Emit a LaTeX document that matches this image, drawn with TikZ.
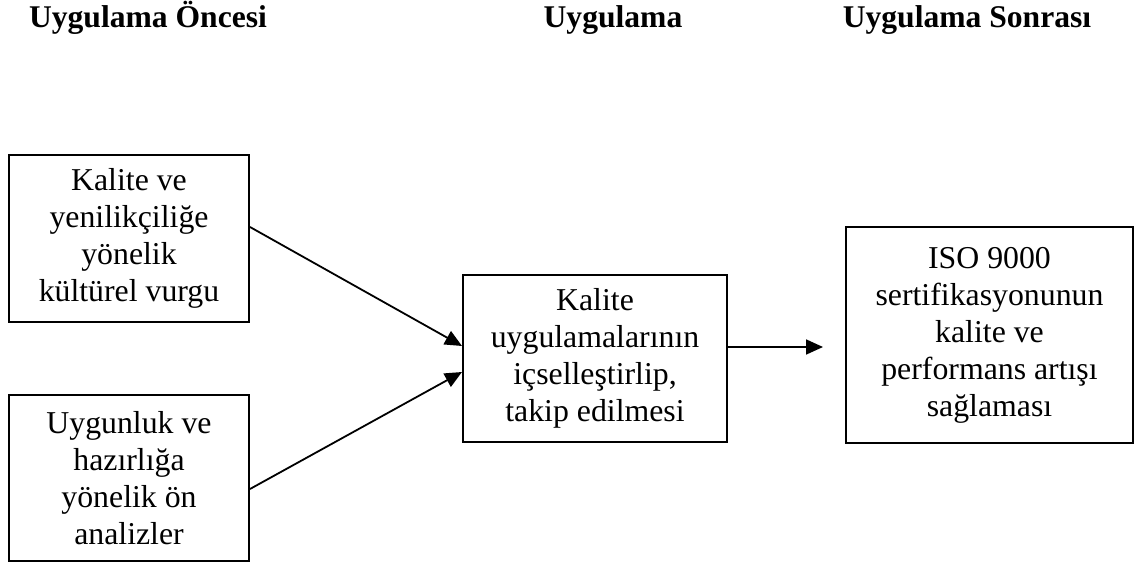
\documentclass[tikz,border=0pt]{standalone}
\usepackage{fontspec}
\setmainfont{Liberation Serif}
\usetikzlibrary{arrows.meta}
\begin{document}
\begin{tikzpicture}[x=1pt,y=-1pt,
  stagebox/.style={draw=black, line width=2pt, rectangle, align=center, inner sep=0pt,
    font=\fontsize{31.8}{37}\selectfont},
  heading/.style={anchor=base, font=\fontsize{31.6}{36}\selectfont\bfseries},
  flow/.style={line width=1.8pt, -{Triangle[length=17pt,width=15pt]}}]
  \useasboundingbox (0,0) rectangle (1138,564);

  % column titles
  \node[heading] (h1) at (148,28) {Uygulama Öncesi};
  \node[heading] (h2) at (613,28) {Uygulama};
  \node[heading] (h3) at (967,28) {Uygulama Sonrası};

  % stage boxes
  \node[stagebox, minimum width=240pt, minimum height=167pt] (pre1) at (129,238.5)
    {Kalite ve\\yenilikçiliğe\\yönelik\\kültürel vurgu};
  \node[stagebox, minimum width=240pt, minimum height=166pt] (pre2) at (129,478)
    {Uygunluk ve\\hazırlığa\\yönelik ön\\analizler};
  \node[stagebox, minimum width=264pt, minimum height=167pt] (impl) at (595,358.5)
    {Kalite\\uygulamalarının\\içselleştirlip,\\takip edilmesi};
  \node[stagebox, minimum width=287pt, minimum height=216pt] (post) at (989.5,335)
    {ISO 9000\\sertifikasyonunun\\kalite ve\\performans artışı\\sağlaması};

  % connectors
  \coordinate (postin) at (823,347);
  \draw[flow] ([yshift=11.5pt]pre1.east) -- ([yshift=12.5pt]impl.west);
  \draw[flow] ([yshift=-11pt]pre2.east) -- ([yshift=-13.5pt]impl.west);
  \draw[flow] ([yshift=11.5pt]impl.east) -- (postin);
\end{tikzpicture}
\end{document}
